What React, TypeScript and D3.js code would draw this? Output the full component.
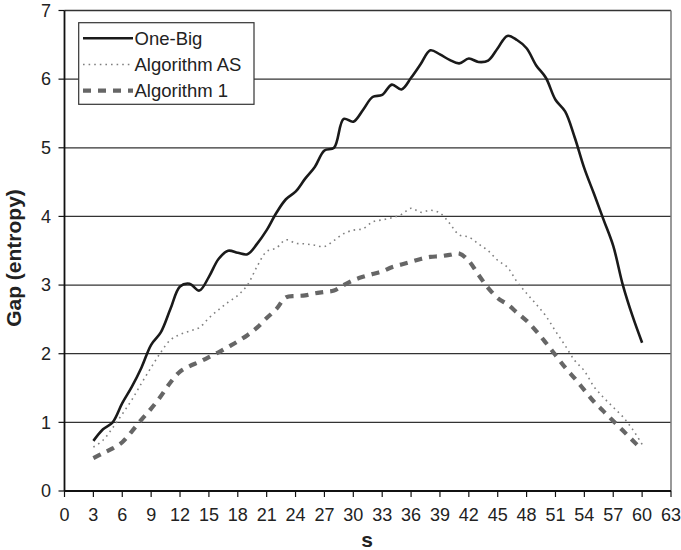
import React from "react";
import * as d3 from "d3";

const sValues: number[] = Array.from({ length: 58 }, (_, i) => i + 3);

const oneBig: number[] = [
  0.73, 0.9, 1.0, 1.28, 1.52, 1.8, 2.13, 2.31, 2.65, 2.98,
  3.02, 2.92, 3.12, 3.38, 3.5, 3.47, 3.45, 3.6, 3.8, 4.05,
  4.25, 4.36, 4.55, 4.72, 4.96, 5.0, 5.42, 5.38, 5.55, 5.74,
  5.77, 5.92, 5.85, 6.02, 6.22, 6.42, 6.36, 6.28, 6.23, 6.3,
  6.25, 6.27, 6.45, 6.63, 6.57, 6.45, 6.2, 6.02, 5.7, 5.53,
  5.15, 4.7, 4.33, 3.95, 3.57, 3.0, 2.55, 2.16,
];

const algorithmAS: number[] = [
  0.64, 0.74, 0.92, 1.12, 1.33, 1.57, 1.8, 2.02, 2.2, 2.28,
  2.33, 2.38, 2.52, 2.64, 2.75, 2.85, 3.0, 3.27, 3.49, 3.54,
  3.66, 3.61, 3.6, 3.58, 3.56, 3.65, 3.75, 3.8, 3.82, 3.92,
  3.95, 3.98, 4.03, 4.12, 4.06, 4.09, 4.05, 3.9, 3.73, 3.7,
  3.6, 3.5, 3.36, 3.26, 3.05, 2.88, 2.72, 2.55, 2.33, 2.12,
  1.9, 1.75, 1.52, 1.36, 1.22, 1.08, 0.9, 0.68,
];

const algorithm1: number[] = [
  0.48, 0.55, 0.62, 0.71, 0.87, 1.04, 1.2, 1.38, 1.58, 1.74,
  1.82, 1.88, 1.95, 2.02, 2.1, 2.18, 2.27, 2.38, 2.52, 2.65,
  2.82, 2.84, 2.85, 2.88, 2.9, 2.92, 3.0, 3.07, 3.12, 3.16,
  3.2, 3.26, 3.3, 3.34, 3.38, 3.41, 3.42, 3.44, 3.46, 3.35,
  3.15, 2.96, 2.81, 2.72, 2.6, 2.48, 2.33, 2.16, 1.98, 1.8,
  1.64, 1.47, 1.3, 1.16, 1.02, 0.88, 0.74, 0.6,
];

const xTicks: number[] = d3.range(0, 64, 3);
const yTicks: number[] = [0, 1, 2, 3, 4, 5, 6, 7];
const seriesNames: string[] = ["One-Big", "Algorithm AS", "Algorithm 1"];

const W = 681;
const H = 550;
const left = 64.5;
const right = 671;
const top = 10.5;
const bottom = 491;
const FONT = "'Liberation Sans', Arial, sans-serif";

export default function App() {
  const x = d3.scaleLinear().domain([0, 63]).range([left, right]);
  const y = d3.scaleLinear().domain([0, 7]).range([bottom, top]);

  const line = (vals: number[]) =>
    d3
      .line<number>()
      .x((_, i) => x(sValues[i]))
      .y((d) => y(d))
      .curve(d3.curveCatmullRom.alpha(0.5))(vals) || "";

  const styles = [
    { stroke: "#1a1a1a", width: 2.6, dash: "" },
    { stroke: "#808080", width: 1.6, dash: "1.6,4" },
    { stroke: "#666666", width: 4.2, dash: "8,7" },
  ];
  const data = [oneBig, algorithmAS, algorithm1];

  return (
    <svg
      width={W}
      height={H}
      style={{ position: "absolute", left: 0, top: 0, background: "#fff" }}
      fontFamily={FONT}
    >
      <rect x={0} y={0} width={W} height={H} fill="#fff" />
      {/* grid lines */}
      {yTicks.slice(1, 7).map((t) => (
        <line key={t} x1={left} x2={right} y1={y(t)} y2={y(t)} stroke="#333" strokeWidth={1.2} />
      ))}
      {/* frame */}
      <line x1={left} x2={right} y1={top} y2={top} stroke="#333" strokeWidth={1.5} />
      <line x1={right} x2={right} y1={top} y2={bottom} stroke="#777" strokeWidth={1.5} />
      <line x1={left} x2={left} y1={top} y2={bottom} stroke="#111" strokeWidth={1.8} />
      <line x1={left} x2={right} y1={bottom} y2={bottom} stroke="#111" strokeWidth={1.8} />
      {/* y ticks */}
      {yTicks.map((t) => (
        <g key={t}>
          <line x1={left - 6} x2={left} y1={y(t)} y2={y(t)} stroke="#111" strokeWidth={1.2} />
          <text x={51} y={y(t)} dy="0.35em" textAnchor="end" fontSize={18} fill="#222">
            {t}
          </text>
        </g>
      ))}
      {/* x ticks */}
      {xTicks.map((t) => (
        <g key={t}>
          <line x1={x(t)} x2={x(t)} y1={bottom} y2={bottom + 6} stroke="#111" strokeWidth={1.2} />
          <text x={x(t)} y={521} textAnchor="middle" fontSize={18} fill="#222">
            {t}
          </text>
        </g>
      ))}
      {/* axis titles */}
      <text x={367} y={547} textAnchor="middle" fontSize={21} fontWeight="bold" fill="#222">
        s
      </text>
      <text
        transform={`translate(21,258) rotate(-90)`}
        textAnchor="middle"
        fontSize={21}
        fontWeight="bold"
        fill="#222"
      >
        Gap (entropy)
      </text>
      {/* series */}
      {data.map((vals, i) => (
        <path
          key={i}
          d={line(vals)}
          fill="none"
          stroke={styles[i].stroke}
          strokeWidth={styles[i].width}
          strokeDasharray={styles[i].dash || undefined}
          strokeLinejoin="round"
        />
      ))}
      {/* legend */}
      <rect x={78.7} y={22.7} width={175.3} height={81.6} fill="#fff" stroke="#333" strokeWidth={1.2} />
      {seriesNames.map((name, i) => {
        const cy = 38.3 + i * 26.2;
        return (
          <g key={name}>
            <line
              x1={83}
              x2={133}
              y1={cy}
              y2={cy}
              stroke={styles[i].stroke}
              strokeWidth={styles[i].width}
              strokeDasharray={styles[i].dash || undefined}
            />
            <text x={134.5} y={cy} dy="0.36em" fontSize={18.5} fill="#222">
              {name}
            </text>
          </g>
        );
      })}
    </svg>
  );
}
